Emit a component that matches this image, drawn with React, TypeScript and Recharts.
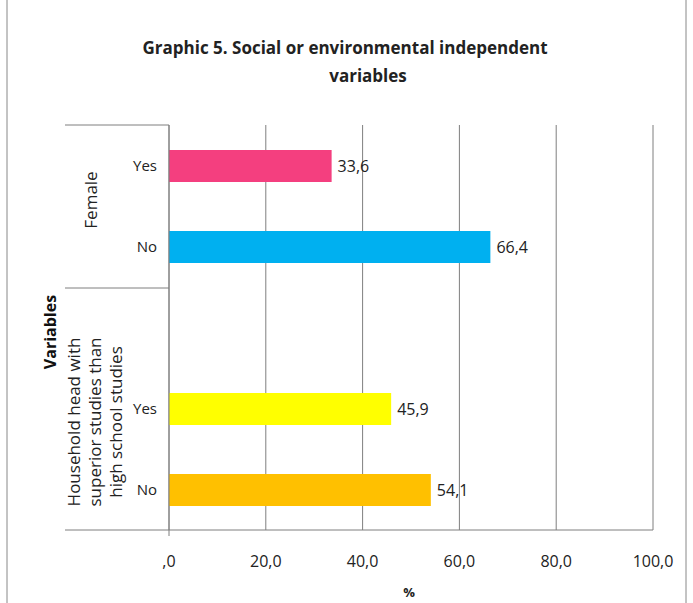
import { BarChart, Bar, XAxis, YAxis, CartesianGrid, Cell, LabelList } from "recharts";

const categories = ["Yes", "No", "", "Yes ", "No "];
const values = [33.6, 66.4, null, 45.9, 54.1];
const colors = ["#f43f7f", "#00b0f0", "#ffffff", "#ffff00", "#ffc000"];
const xTicks = [0, 20, 40, 60, 80, 100];

const data = categories.map((c, i) => ({ cat: c, value: values[i] }));

const font = "'Open Sans', sans-serif";
const fmt = (v: number) => (v === 0 ? ",0" : v.toFixed(1).replace(".", ","));

const YTick = (props: any) => {
  const { x, y, payload } = props;
  return (
    <text x={x - 4} y={y} dy={5} textAnchor="end" fontSize={15} fill="#222" fontFamily={font}>
      {payload.value.trim()}
    </text>
  );
};

export default function App() {
  return (
    <div style={{ position: "absolute", left: 0, top: 0, width: 693, height: 603, background: "#fff", overflow: "hidden" }}>
      <BarChart
        layout="vertical"
        width={693}
        height={603}
        data={data}
        margin={{ top: 125, right: 40, left: 69, bottom: 43 }}
        barSize={32}
      >
        <CartesianGrid horizontal={false} stroke="#7f7f7f" />
        <XAxis
          type="number"
          domain={[0, 100]}
          ticks={xTicks}
          tickFormatter={fmt}
          axisLine={false}
          tickLine={false}
          tick={{ fontSize: 16, fill: "#222", fontFamily: font }}
          tickMargin={20}
        />
        <YAxis
          type="category"
          dataKey="cat"
          width={100}
          tick={<YTick />}
          tickLine={false}
          axisLine={{ stroke: "#7f7f7f" }}
        />
        <Bar dataKey="value" isAnimationActive={false}>
          {data.map((d, i) => (
            <Cell key={i} fill={colors[i]} />
          ))}
          <LabelList
            dataKey="value"
            position="right"
            offset={6}
            formatter={(v: any) => (v == null ? "" : fmt(v))}
            style={{ fontSize: 16, fill: "#222", fontFamily: font }}
          />
        </Bar>
      </BarChart>
      <svg width={693} height={603} style={{ position: "absolute", left: 0, top: 0, pointerEvents: "none" }}>
        <line x1={7} y1={0} x2={7} y2={603} stroke="#888" />
        <line x1={686} y1={0} x2={686} y2={603} stroke="#888" />
        <line x1={65} y1={125} x2={169} y2={125} stroke="#7f7f7f" />
        <line x1={65} y1={288} x2={169} y2={288} stroke="#7f7f7f" />
        <line x1={65} y1={530} x2={653} y2={530} stroke="#7f7f7f" />
        <line x1={169} y1={530} x2={169} y2={536} stroke="#7f7f7f" />
        <text x={345} y={54} textAnchor="middle" fontSize={17} fontWeight="bold" fill="#222" fontFamily={font}>
          Graphic 5. Social or environmental independent
        </text>
        <text x={368} y={82} textAnchor="middle" fontSize={17} fontWeight="bold" fill="#222" fontFamily={font}>
          variables
        </text>
        <text transform="translate(97,200) rotate(-90)" textAnchor="middle" fontSize={17} fill="#222" fontFamily={font}>
          Female
        </text>
        <text transform="translate(56,332) rotate(-90)" textAnchor="middle" fontSize={16} fontWeight="bold" fill="#111" fontFamily={font}>
          Variables
        </text>
        <text transform="translate(80,422) rotate(-90)" textAnchor="middle" fontSize={17} fill="#222" fontFamily={font}>
          Household head with
        </text>
        <text transform="translate(101,422) rotate(-90)" textAnchor="middle" fontSize={17} fill="#222" fontFamily={font}>
          superior studies than
        </text>
        <text transform="translate(122,422) rotate(-90)" textAnchor="middle" fontSize={17} fill="#222" fontFamily={font}>
          high  school studies
        </text>
        <text x={409} y={597} textAnchor="middle" fontSize={13} fontWeight="bold" fill="#222" fontFamily={font}>
          %
        </text>
      </svg>
    </div>
  );
}
